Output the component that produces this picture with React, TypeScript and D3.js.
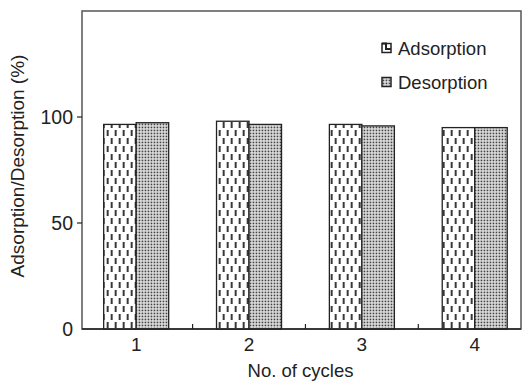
import * as d3 from "d3";
import { useEffect, useRef } from "react";

// data
const cycles = [1, 2, 3, 4];
const adsorption = [96.5, 98, 96.5, 95];
const desorption = [97.3, 96.5, 95.8, 95];
const yTicks = [0, 50, 100];
const seriesNames = ["Adsorption", "Desorption"];

const W = 524;
const H = 381;

function App() {
  const ref = useRef<SVGSVGElement | null>(null);

  useEffect(() => {
    const svg = d3.select(ref.current);
    svg.selectAll("*").remove();

    const left = 82, right = 521, top = 11, bottom = 329;
    const font = "Liberation Sans, Arial, sans-serif";

    const x = d3.scaleLinear().domain([0.52, 4.41]).range([left, right]);
    const y = d3.scaleLinear().domain([0, 150]).range([bottom, top]);
    const barW = 32.5;

    // patterns
    const defs = svg.append("defs");
    const pa = defs
      .append("pattern")
      .attr("id", "pAds")
      .attr("patternUnits", "userSpaceOnUse")
      .attr("width", 16)
      .attr("height", 16)
      .attr("x", x(1) - barW);
    pa.append("rect").attr("width", 16).attr("height", 16).attr("fill", "#fff");
    [
      [4, 2],
      [12, 2],
      [8, 10],
      [16, 10],
      [0, 10],
    ].forEach(([cx, cy]) => {
      pa.append("rect")
        .attr("x", cx - 0.9)
        .attr("y", cy)
        .attr("width", 1.8)
        .attr("height", 6)
        .attr("fill", "#222");
    });

    const pd = defs
      .append("pattern")
      .attr("id", "pDes")
      .attr("patternUnits", "userSpaceOnUse")
      .attr("width", 3)
      .attr("height", 3);
    pd.append("rect").attr("width", 3).attr("height", 3).attr("fill", "#e6e6e6");
    pd.append("rect").attr("x", 0.6).attr("y", 0.6).attr("width", 1.7).attr("height", 1.7).attr("fill", "#444");

    // frame
    svg
      .append("rect")
      .attr("x", left)
      .attr("y", top)
      .attr("width", right - left)
      .attr("height", bottom - top)
      .attr("fill", "none")
      .attr("stroke", "#555")
      .attr("stroke-width", 1.5);

    // bars
    const g = svg.append("g");
    cycles.forEach((c, i) => {
      g.append("rect")
        .attr("x", x(c) - barW)
        .attr("y", y(adsorption[i]))
        .attr("width", barW)
        .attr("height", y(0) - y(adsorption[i]))
        .attr("fill", "url(#pAds)")
        .attr("stroke", "#222")
        .attr("stroke-width", 1.3);
      g.append("rect")
        .attr("x", x(c))
        .attr("y", y(desorption[i]))
        .attr("width", barW)
        .attr("height", y(0) - y(desorption[i]))
        .attr("fill", "url(#pDes)")
        .attr("stroke", "#222")
        .attr("stroke-width", 1.3);
    });

    // bottom axis line
    svg
      .append("line")
      .attr("x1", left)
      .attr("x2", right)
      .attr("y1", bottom)
      .attr("y2", bottom)
      .attr("stroke", "#222")
      .attr("stroke-width", 1.5);

    // x ticks between groups, inward
    [1.5, 2.5, 3.5].forEach((t) => {
      svg
        .append("line")
        .attr("x1", x(t))
        .attr("x2", x(t))
        .attr("y1", bottom)
        .attr("y2", bottom - 5)
        .attr("stroke", "#222")
        .attr("stroke-width", 1.2);
    });

    // x labels
    svg
      .append("g")
      .selectAll("text")
      .data(cycles)
      .join("text")
      .attr("x", (d) => x(d))
      .attr("y", bottom + 22)
      .attr("text-anchor", "middle")
      .attr("font-family", font)
      .attr("font-size", 19)
      .attr("fill", "#222")
      .text((d) => d);

    // y ticks, outward
    yTicks.forEach((t) => {
      if (t > 0) {
        svg
          .append("line")
          .attr("x1", left - 5)
          .attr("x2", left)
          .attr("y1", y(t))
          .attr("y2", y(t))
          .attr("stroke", "#222")
          .attr("stroke-width", 1.2);
      }
      svg
        .append("text")
        .attr("x", left - 9)
        .attr("y", y(t))
        .attr("dy", "0.36em")
        .attr("text-anchor", "end")
        .attr("font-family", font)
        .attr("font-size", 19.5)
        .attr("fill", "#222")
        .text(t);
    });

    // axis titles
    svg
      .append("text")
      .attr("x", (left + right) / 2 - 1)
      .attr("y", 377)
      .attr("text-anchor", "middle")
      .attr("font-family", font)
      .attr("font-size", 18.5)
      .attr("fill", "#222")
      .text("No. of cycles");

    svg
      .append("text")
      .attr("transform", `translate(24,166) rotate(-90)`)
      .attr("text-anchor", "middle")
      .attr("font-family", font)
      .attr("font-size", 19)
      .attr("fill", "#222")
      .text("Adsorption/Desorption (%)");

    // legend
    const leg = svg.append("g").attr("transform", "translate(382,48)");
    seriesNames.forEach((name, i) => {
      const row = leg.append("g").attr("transform", `translate(0,${i * 34})`);
      row
        .append("rect")
        .attr("x", 0)
        .attr("y", -4.5)
        .attr("width", 9)
        .attr("height", 9)
        .attr("fill", i === 0 ? "#fff" : "url(#pDes)")
        .attr("stroke", "#222")
        .attr("stroke-width", 1.5);
      if (i === 0) {
        row.append("path").attr("d", "M0,-4.5H4V1H9").attr("fill", "none").attr("stroke", "#222").attr("stroke-width", 2);
      }
      row
        .append("text")
        .attr("x", 16)
        .attr("y", 0)
        .attr("dy", "0.36em")
        .attr("font-family", font)
        .attr("font-size", 18.5)
        .attr("fill", "#222")
        .text(name);
    });
  }, []);

  return <svg ref={ref} width={W} height={H} style={{ position: "absolute", left: 0, top: 0 }} />;
}

export default App;
